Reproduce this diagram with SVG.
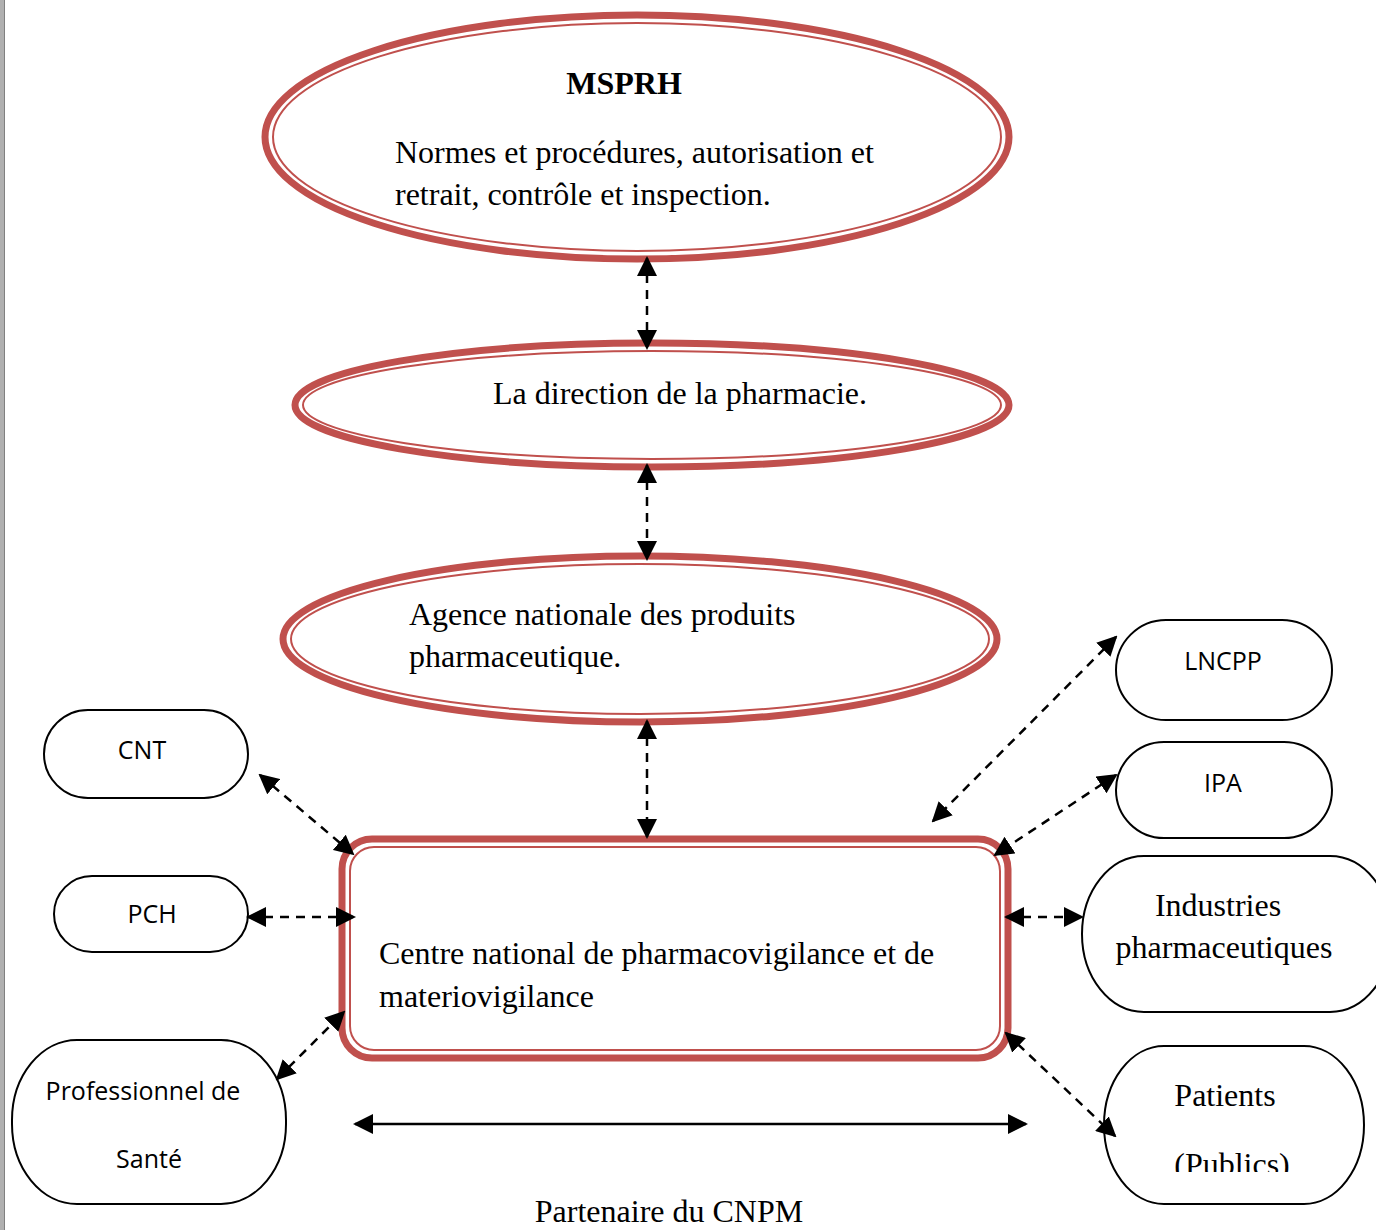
<svg xmlns="http://www.w3.org/2000/svg" width="1376" height="1230" viewBox="0 0 1376 1230">
<defs>
<marker id="ah2" viewBox="0 0 10 10" refX="9" refY="5" markerWidth="8" markerHeight="8" orient="auto-start-reverse">
<path d="M0,0 L10,5 L0,10 z" fill="#000"/>
</marker>
<style>
.ro{fill:none;stroke:#c0504d;stroke-width:7}
.ri{fill:none;stroke:#c0504d;stroke-width:2}
.bk{fill:#fff;stroke:#000;stroke-width:2}
.se{font-family:"Liberation Serif","Times New Roman",serif;font-size:32px;fill:#000}
.sa{font-family:"Open Sans","Noto Sans",sans-serif;font-size:25px;fill:#000}
.dl{stroke:#000;stroke-width:2.5;stroke-dasharray:9 7;fill:none;marker-start:url(#ah2);marker-end:url(#ah2)}
.sl{stroke:#000;stroke-width:2.5;fill:none;marker-start:url(#ah2);marker-end:url(#ah2)}
</style>
</defs>
<rect width="1376" height="1230" fill="#fff"/>
<rect x="0" y="0" width="5" height="1230" fill="#b0b0b0"/>
<line x1="4.5" y1="0" x2="4.5" y2="1230" stroke="#808080" stroke-width="1"/>

<g id="msprh">
<ellipse class="ro" cx="637" cy="137" rx="372" ry="122"/>
<ellipse class="ri" cx="637" cy="137" rx="364" ry="114"/>
<text class="se" x="624" y="94" text-anchor="middle" font-weight="bold">MSPRH</text>
<text class="se" x="395" y="163">Normes et procédures, autorisation et</text>
<text class="se" x="395" y="205">retrait, contrôle et inspection.</text>
</g>

<g id="direction">
<ellipse class="ro" cx="652" cy="405" rx="357" ry="62"/>
<ellipse class="ri" cx="652" cy="405" rx="349" ry="54"/>
<text class="se" x="493" y="404">La direction de la pharmacie.</text>
</g>

<g id="agence">
<ellipse class="ro" cx="640" cy="639" rx="357" ry="83"/>
<ellipse class="ri" cx="640" cy="639" rx="349" ry="75"/>
<text class="se" x="409" y="625">Agence nationale des produits</text>
<text class="se" x="409" y="667">pharmaceutique.</text>
</g>

<g id="cnpm">
<rect class="ro" x="342" y="839" width="666" height="219" rx="30"/>
<rect class="ri" x="350" y="847" width="650" height="203" rx="24"/>
<text class="se" x="379" y="964">Centre national de pharmacovigilance et de</text>
<text class="se" x="379" y="1007">materiovigilance</text>
</g>

<g id="cnt">
<rect class="bk" x="44" y="710" width="204" height="88" rx="44"/>
<text class="sa" x="142" y="759" text-anchor="middle">CNT</text>
</g>
<g id="pch">
<rect class="bk" x="54" y="876" width="194" height="76" rx="38"/>
<text class="sa" x="152" y="923" text-anchor="middle">PCH</text>
</g>
<g id="prof">
<rect class="bk" x="12" y="1040" width="274" height="164" rx="65" ry="80"/>
<text class="sa" x="143" y="1100" text-anchor="middle">Professionnel de</text>
<text class="sa" x="149" y="1168" text-anchor="middle">Santé</text>
</g>
<g id="lncpp">
<rect class="bk" x="1116" y="620" width="216" height="100" rx="50"/>
<text class="sa" x="1223" y="670" text-anchor="middle">LNCPP</text>
</g>
<g id="ipa">
<rect class="bk" x="1116" y="742" width="216" height="96" rx="48"/>
<text class="sa" x="1223" y="792" text-anchor="middle">IPA</text>
</g>
<g id="industries">
<rect class="bk" x="1082" y="856" width="310" height="156" rx="62" ry="78"/>
<text class="se" x="1218" y="916" text-anchor="middle">Industries</text>
<text class="se" x="1224" y="958" text-anchor="middle">pharmaceutiques</text>
</g>
<g id="patients">
<rect class="bk" x="1104" y="1046" width="260" height="158" rx="60" ry="79"/>
<text class="se" x="1225" y="1106" text-anchor="middle">Patients</text>
<svg x="1104" y="1046" width="260" height="126" overflow="hidden"><text class="se" x="128" y="129" text-anchor="middle">(Publics)</text></svg>
</g>

<g id="connectors">
<line class="dl" x1="647" y1="258" x2="647" y2="348"/>
<line class="dl" x1="647" y1="465" x2="647" y2="559"/>
<line class="dl" x1="647" y1="721" x2="647" y2="837"/>
<line class="dl" x1="260" y1="775" x2="353" y2="854"/>
<line class="dl" x1="248" y1="917" x2="354" y2="917"/>
<line class="dl" x1="277" y1="1079" x2="344" y2="1012"/>
<line class="dl" x1="1116" y1="637" x2="933" y2="821"/>
<line class="dl" x1="1116" y1="775" x2="995" y2="855"/>
<line class="dl" x1="1006" y1="917" x2="1082" y2="917"/>
<line class="dl" x1="1006" y1="1033" x2="1115" y2="1136"/>
<line class="sl" x1="355" y1="1124" x2="1026" y2="1124"/>
</g>
<text class="se" x="669" y="1222" text-anchor="middle">Partenaire du CNPM</text>
</svg>
